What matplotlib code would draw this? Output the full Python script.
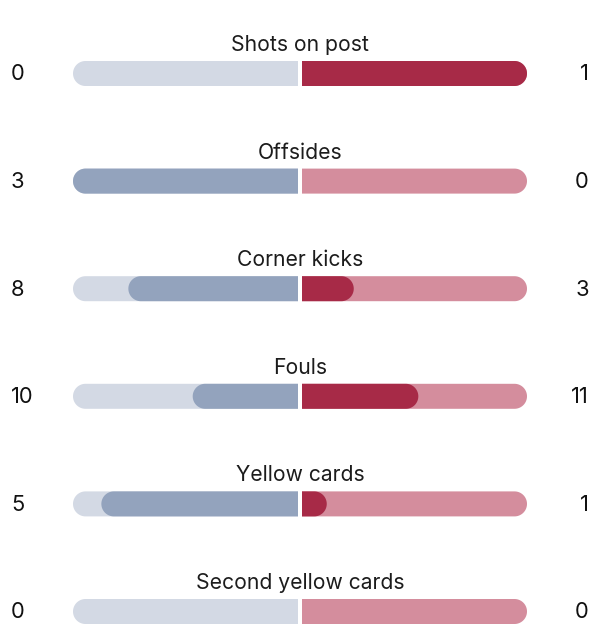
import numpy as np
import matplotlib
matplotlib.use("Agg")
import matplotlib.pyplot as plt
from matplotlib.patches import Polygon

# ---- data ----
categories = ["Shots on post", "Offsides", "Corner kicks", "Fouls",
              "Yellow cards", "Second yellow cards"]
home_values = [0, 3, 8, 10, 5, 0]
away_values = [1, 0, 3, 11, 1, 0]
# share of each half-bar that is filled
home_share = [0.0, 1.0, 0.754, 0.468, 0.874, 0.0]
away_share = [1.0, 0.0, 0.230, 0.517, 0.110, 0.0]

# ---- style / layout ----
HOME_BG = "#d3d9e4"
HOME_FILL = "#93a3bd"
AWAY_BG = "#d48d9d"
AWAY_FILL = "#a72a47"
TEXT = "#1c1c1c"

W, H = 606, 640
CENTER = 300.0
GAP = 2.0
HALF = 225.0
BAR_H = 25.0
R = BAR_H / 2
ROW0 = 73.5
ROW_STEP = 107.6

plt.rcParams['font.family'] = ['Inter', 'DejaVu Sans']

fig = plt.figure(figsize=(W / 100, H / 100), dpi=100)
ax = fig.add_axes([0, 0, 1, 1])
ax.set_xlim(0, W)
ax.set_ylim(H, 0)
ax.axis("off")


def half_bar(y, frac, side, color, z):
    """Bar growing outward from the centre; rounded at the outer end."""
    if frac <= 0:
        return
    length = frac * HALF
    start = CENTER - GAP if side < 0 else CENTER + GAP
    cx = start + side * max(length - R, 0)
    t = np.linspace(-np.pi / 2, np.pi / 2, 40)
    arc_x = cx + side * R * np.cos(t)
    arc_y = y + R * np.sin(t)
    xs = np.concatenate([[start], arc_x, [start]])
    ys = np.concatenate([[y - R], arc_y, [y + R]])
    ax.add_patch(Polygon(np.column_stack([xs, ys]), closed=True,
                         facecolor=color, edgecolor="none", zorder=z))


for i, cat in enumerate(categories):
    y = ROW0 + i * ROW_STEP
    half_bar(y, 1.0, -1, HOME_BG, 1)
    half_bar(y, 1.0, 1, AWAY_BG, 1)
    half_bar(y, home_share[i], -1, HOME_FILL, 2)
    half_bar(y, away_share[i], 1, AWAY_FILL, 2)
    ax.text(CENTER, y - 22.5, cat, ha="center", va="baseline",
            fontsize=15.2, color=TEXT)
    ax.text(11, y + 6.8, str(home_values[i]), ha="left", va="baseline",
            fontsize=15.8, color="#111111")
    ax.text(589, y + 6.8, str(away_values[i]), ha="right", va="baseline",
            fontsize=15.8, color="#111111")

fig.savefig("out.png", dpi=100, facecolor="white")
